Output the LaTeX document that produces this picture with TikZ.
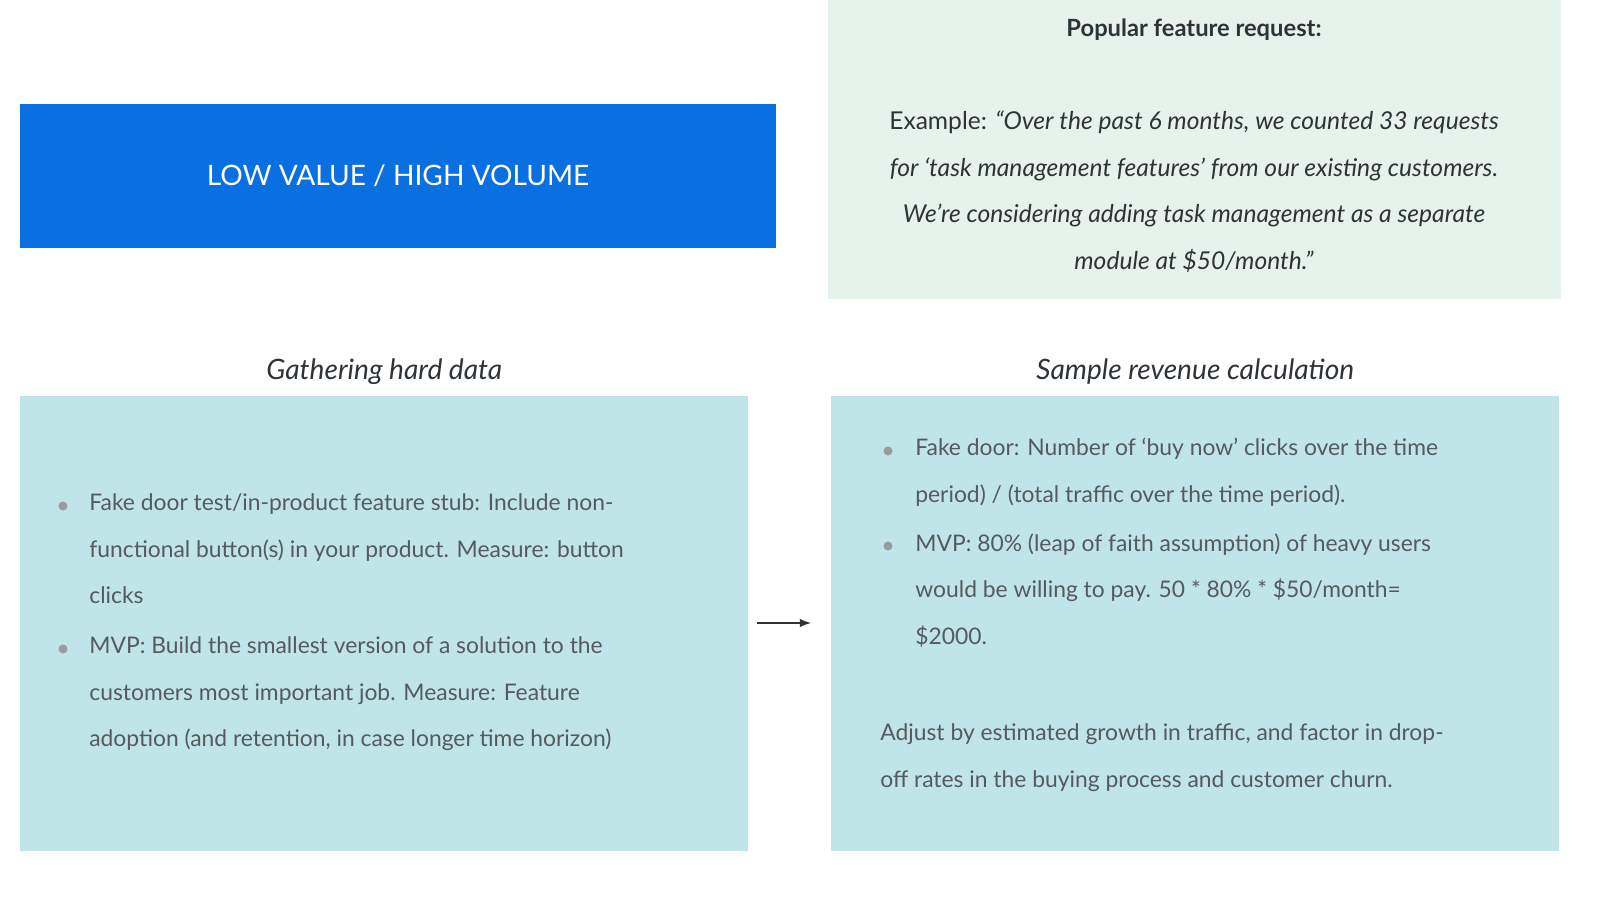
\documentclass[tikz,border=0pt]{standalone}
\usepackage{fontspec}
\setmainfont{Lato}
\usetikzlibrary{positioning}
\definecolor{bannerblue}{HTML}{0A70E2}
\definecolor{mintbg}{HTML}{E6F3EC}
\definecolor{tealbg}{HTML}{BFE5E8}
\definecolor{bodygrey}{HTML}{555A5E}
\definecolor{headgrey}{HTML}{2E3338}
\begin{document}
\begin{tikzpicture}[x=0.02cm,y=-0.02cm,node distance=0.1cm,
      panel/.style={fill=tealbg,draw=none},
      caption/.style={font=\fontsize{16}{19}\selectfont\itshape,text=headgrey},
      body/.style={font=\fontsize{13}{26.7}\selectfont,text=bodygrey,align=left,anchor=west,inner sep=0pt},
      dot/.style={circle,fill=bodygrey!60,inner sep=0pt,minimum size=0.18cm},
      arr/.style={very thick,-latex,headgrey}
      ]
      \useasboundingbox (0,0) rectangle (1600,898);
      % boxes
      \fill[bannerblue] (20,104) rectangle (776,248);
      \node (banner) at (398,176) {\color{white}\fontsize{16}{19}\selectfont LOW VALUE / HIGH VOLUME};
      \fill[mintbg] (828,0) rectangle (1561,299);
      \node (lbox) [panel,minimum width=14.56cm,minimum height=9.1cm,anchor=north west] at (20,396) {};
      \node (rbox) [panel,minimum width=14.56cm,minimum height=9.1cm,anchor=north west] at (831,396) {};
      \node (ltitle) [caption,above=of lbox] {Gathering hard data};
      \node (rtitle) [caption,above=of rbox] {Sample revenue calculation};
      % request
      \node (req) at (1194,30) {\color{headgrey}\fontsize{13.5}{16}\selectfont\bfseries Popular feature request:};
      \node (ex) [align=center,font=\fontsize{14}{26.7}\selectfont,text=headgrey,anchor=north,inner sep=0pt] at (1194,110)
        {Example: \itshape “Over the past 6 months, we counted 33 requests\\
         \itshape for ‘task management features’ from our existing customers.\\
         \itshape We’re considering adding task management as a separate\\
         \itshape module at \$50/month.”};
      % left list
      \node (l1) [body,anchor=north west] at (89,493) {Fake door test/in-product feature stub: Include non-\\functional button(s) in your product. Measure: button\\clicks};
      \node (l2) [body,anchor=north west] at (89,636) {MVP: Build the smallest version of a solution to the\\customers most important job. Measure: Feature\\adoption (and retention, in case longer time horizon)};
      \node (ld1) [dot] at (63,506) {};
      \node (ld2) [dot] at (63,649) {};
      % right list
      \node (r1) [body,anchor=north west] at (915,438) {Fake door: Number of ‘buy now’ clicks over the time\\period) / (total traffic over the time period).};
      \node (r2) [body,anchor=north west] at (915,533) {MVP: 80\% (leap of faith assumption) of heavy users\\would be willing to pay. 50 * 80\% * \$50/month=\\\$2000.};
      \node (rd1) [dot] at (888,451) {};
      \node (rd2) [dot] at (888,546) {};
      \node (r3) [body,anchor=north west] at (880,723) {Adjust by estimated growth in traffic, and factor in drop-\\off rates in the buying process and customer churn.};
      % arrow
      \coordinate (a1) at (757,623);
      \coordinate (a2) at (811,623);
      \draw[arr] (a1) -- (a2);
\end{tikzpicture}
\end{document}
